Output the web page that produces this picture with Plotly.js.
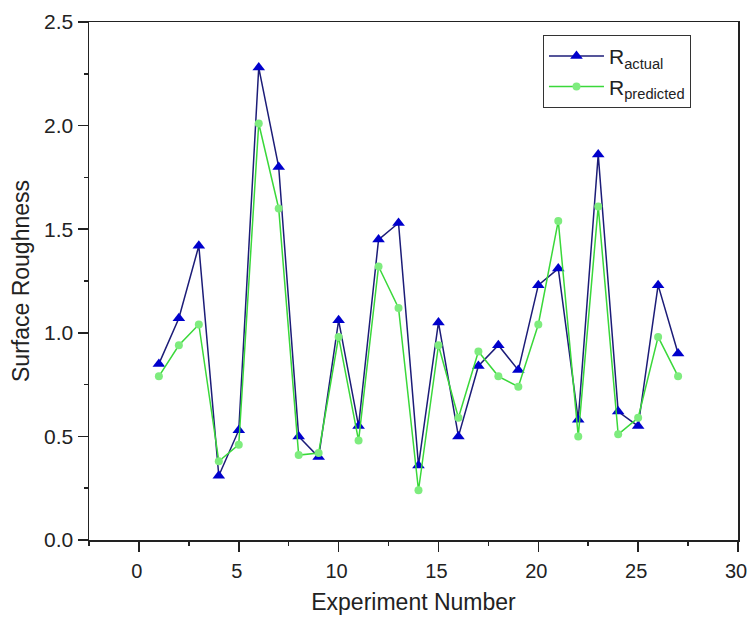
<!DOCTYPE html>
<html>
<head>
<meta charset="utf-8">
<script src="https://cdn.plot.ly/plotly-3.0.1.min.js"></script>
<style>html,body{margin:0;padding:0;background:#fff;}#chart{width:747px;height:618px;}</style>
</head>
<body>
<div id="chart"></div>
<script>
const experiments = [1,2,3,4,5,6,7,8,9,10,11,12,13,14,15,16,17,18,19,20,21,22,23,24,25,26,27];
const rActual = [0.85,1.07,1.42,0.31,0.53,2.28,1.80,0.50,0.40,1.06,0.55,1.45,1.53,0.36,1.05,0.50,0.84,0.94,0.82,1.23,1.31,0.58,1.86,0.62,0.55,1.23,0.90];
const rPredicted = [0.79,0.94,1.04,0.38,0.46,2.01,1.60,0.41,0.42,0.98,0.48,1.32,1.12,0.24,0.94,0.59,0.91,0.79,0.74,1.04,1.54,0.50,1.61,0.51,0.59,0.98,0.79];
const xTicks = [0,5,10,15,20,25,30];
const yTicks = [0.0,0.5,1.0,1.5,2.0,2.5];

const font = 'Liberation Sans, Arial, sans-serif';

const traces = [
  {
    x: experiments, y: rActual, type: 'scatter', mode: 'lines+markers',
    name: 'R<sub>actual</sub>',
    line: {color: '#1c1c78', width: 1.5},
    marker: {symbol: 'triangle-up', size: 11, color: '#0000cc'}
  },
  {
    x: experiments, y: rPredicted, type: 'scatter', mode: 'lines+markers',
    name: 'R<sub>predicted</sub>',
    line: {color: '#3ad83a', width: 1.5},
    marker: {symbol: 'circle', size: 8, color: '#7eec7e'}
  }
];

const axisCommon = {
  showgrid: false, zeroline: false,
  showline: true, linecolor: '#222', linewidth: 1.5, mirror: true,
  ticks: 'outside', ticklen: 10, tickwidth: 1.5, tickcolor: '#222',
  ticklabeloverflow: 'allow',
  tickfont: {family: font, size: 21, color: '#222'}
};

const layout = {
  width: 747, height: 618,
  margin: {l: 89, r: 9, t: 22, b: 78},
  paper_bgcolor: '#fff', plot_bgcolor: '#fff',
  font: {family: font, color: '#222'},
  showlegend: true,
  legend: {
    x: 0.6995, y: 0.975, xanchor: 'left', yanchor: 'top',
    bgcolor: '#fff', bordercolor: '#333', borderwidth: 1,
    font: {family: font, size: 21, color: '#222'},
    itemwidth: 55, tracegroupgap: 0
  },
  xaxis: Object.assign({}, axisCommon, {
    range: [-2.5, 30], tickmode: 'array', tickvals: xTicks, ticktext: xTicks.map(String),
    ticklabelstandoff: 2, ticklabelshift: -2,
    tickfont: {family: font, size: 20, color: '#222'},
    minor: {dtick: 2.5, tick0: 0, ticklen: 4, tickwidth: 1.5, tickcolor: '#222', ticks: 'outside'},
    title: {text: 'Experiment Number', font: {family: font, size: 23, color: '#222'}, standoff: 13}
  }),
  yaxis: Object.assign({}, axisCommon, {
    range: [0, 2.5], tickmode: 'array', tickvals: yTicks, ticktext: yTicks.map(v => v.toFixed(1)),
    minor: {dtick: 0.25, tick0: 0, ticklen: 4, tickwidth: 1.5, tickcolor: '#222', ticks: 'outside'},
    title: {text: 'Surface Roughness', font: {family: font, size: 23, color: '#222'}, standoff: 8}
  })
};

Plotly.newPlot('chart', traces, layout, {displayModeBar: false, staticPlot: true});
</script>
</body>
</html>
